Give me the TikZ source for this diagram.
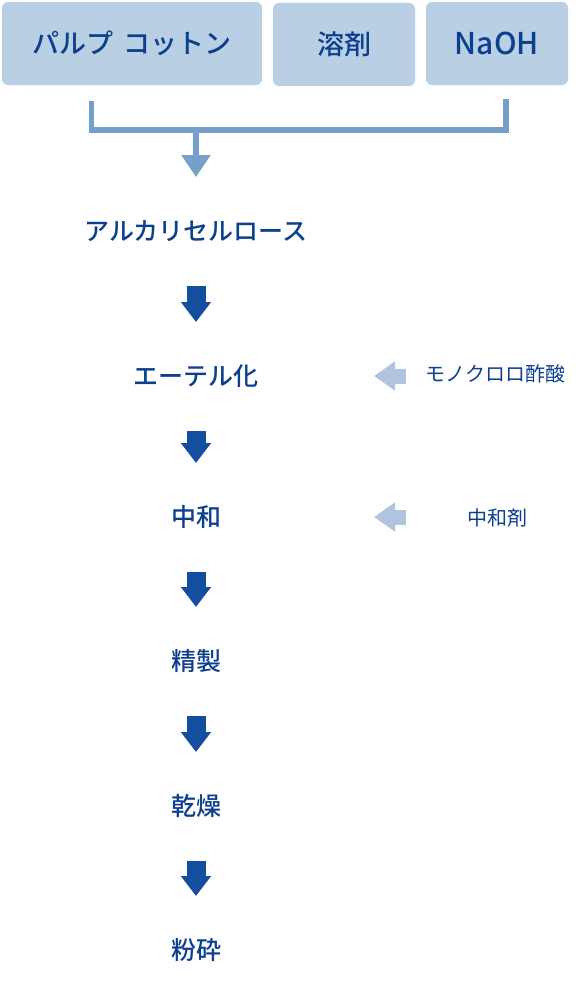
\documentclass[tikz,border=0pt]{standalone}
\usepackage{fontspec}
\newfontfamily\jpfont{Noto Sans CJK JP}[BoldFont={Noto Sans CJK JP Medium}]
\definecolor{boxblue}{RGB}{184,207,228}
\definecolor{textblue}{RGB}{13,63,143}
\definecolor{flowblue}{RGB}{20,78,158}
\definecolor{feedblue}{RGB}{176,196,224}
\definecolor{mergeblue}{RGB}{116,160,202}
\usetikzlibrary{arrows.meta}

\begin{document}
\begin{tikzpicture}[x=1pt,y=-1pt,
  srcbox/.style={fill=boxblue,rounded corners=6pt,minimum height=83pt,text=textblue,font=\jpfont\bfseries\fontsize{27}{30}\selectfont,inner sep=0pt},
  stepnode/.style={text=textblue,font=\jpfont\bfseries\fontsize{25}{28}\selectfont,inner sep=0pt},
  feednode/.style={text=textblue,font=\jpfont\fontsize{20}{24}\selectfont,inner sep=0pt},
  flow/.style={line width=19pt,flowblue,-{Triangle[width=29pt,length=20pt]},shorten <=55pt,shorten >=54pt},
  feed/.style={line width=15pt,feedblue,-{Triangle[width=28pt,length=21pt]}},
  mergeline/.style={line width=5.5pt,mergeblue}]
  \useasboundingbox (0,0) rectangle (580,998);
  % raw materials
  \node[srcbox,minimum width=260pt] (pulp) at (132,43.5) {パルプ\hspace{3pt} コットン};
  \node[srcbox,minimum width=142pt] (solv) at (344,44.5) {溶剤};
  \node[srcbox,minimum width=142pt,font=\jpfont\bfseries\fontsize{30}{32}\selectfont] (naoh) at (497,43.5) {NaOH};
  % process steps
  \node[stepnode] (s1) at (196,231) {アルカリセルロース};
  \node[stepnode] (s2) at (196,376) {エーテル化};
  \node[stepnode] (s3) at (196,517) {中和};
  \node[stepnode] (s4) at (196,661) {精製};
  \node[stepnode] (s5) at (196,806) {乾燥};
  \node[stepnode] (s6) at (196,950) {粉砕};
  % additives
  \node[feednode] (m1) at (495,374) {モノクロロ酢酸};
  \node[feednode] (m2) at (497,517.5) {中和剤};
  \coordinate (f1) at (406,376);
  \coordinate (t1) at (374,376);
  \coordinate (f2) at (406,517);
  \coordinate (t2) at (374,517);
  % bracket
  \coordinate (bl) at (91.5,101);
  \coordinate (br) at (506,99);
  \coordinate (jn) at (196,130);
  \draw[mergeline] (bl) |- (br |- jn) -- (br);
  \draw[mergeline,-{Triangle[width=28pt,length=22pt]},shorten >=54pt] (jn) -- (s1.center);
  % flow
  \draw[flow] (s1.center) -- (s2.center);
  \draw[flow] (s2.center) -- (s3.center);
  \draw[flow] (s3.center) -- (s4.center);
  \draw[flow] (s4.center) -- (s5.center);
  \draw[flow] (s5.center) -- (s6.center);
  \draw[feed] (f1) -- (t1);
  \draw[feed] (f2) -- (t2);
\end{tikzpicture}
\end{document}
